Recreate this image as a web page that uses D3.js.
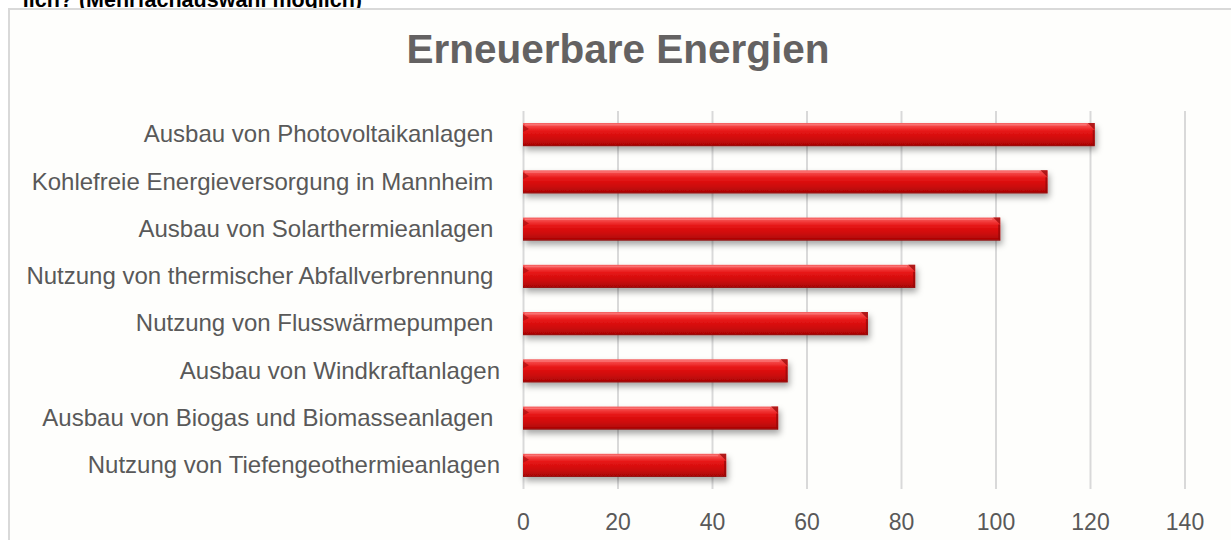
<!DOCTYPE html>
<html>
<head>
<meta charset="utf-8">
<script src="https://cdn.jsdelivr.net/npm/d3@7"></script>
<style>
  html, body { margin: 0; padding: 0; background: #ffffff; }
  svg { display: block; }
  text { font-family: "Liberation Sans", Arial, sans-serif; }
</style>
</head>
<body>
<svg id="chart" width="1231" height="540"></svg>
<script>
const categories = [
  "Ausbau von Photovoltaikanlagen ",
  "Kohlefreie Energieversorgung in Mannheim ",
  "Ausbau von Solarthermieanlagen ",
  "Nutzung von thermischer Abfallverbrennung ",
  "Nutzung von Flusswärmepumpen ",
  "Ausbau von Windkraftanlagen",
  "Ausbau von Biogas und Biomasseanlagen ",
  "Nutzung von Tiefengeothermieanlagen"
];
const values = [121, 111, 101, 83, 73, 56, 54, 43];
const tickValues = [0, 20, 40, 60, 80, 100, 120, 140];
const chartTitle = "Erneuerbare Energien";
const headerText = "lich? (Mehrfachauswahl möglich)";

const svg = d3.select("#chart");
const defs = svg.append("defs");

const grad = defs.append("linearGradient").attr("id", "barGrad")
  .attr("x1", 0).attr("y1", 0).attr("x2", 0).attr("y2", 1);
[["0%", "#f56060"], ["18%", "#f23a3a"], ["35%", "#e61515"], ["70%", "#cc0a0a"], ["92%", "#b00606"], ["100%", "#8a0a0a"]]
  .forEach(([o, c]) => grad.append("stop").attr("offset", o).attr("stop-color", c));

const shadow = defs.append("filter").attr("id", "shadow")
  .attr("x", "-5%").attr("y", "-50%").attr("width", "115%").attr("height", "250%");
shadow.append("feDropShadow").attr("dx", 2).attr("dy", 4).attr("stdDeviation", 3)
  .attr("flood-color", "#000").attr("flood-opacity", 0.35);

// header text (cut off at top in the reference)
svg.append("text").attr("x", 362).attr("y", 7).attr("text-anchor", "end")
  .attr("font-size", 21.5).attr("font-weight", "bold").attr("fill", "#000")
  .text(headerText);

// frame
svg.append("rect").attr("x", 9).attr("y", 9).attr("width", 1240).attr("height", 560)
  .attr("fill", "#fefefc").attr("stroke", "#d9d9d9").attr("stroke-width", 2);

// title
svg.append("text").attr("x", 618).attr("y", 63).attr("text-anchor", "middle")
  .attr("font-size", 40.5).attr("font-weight", "bold").attr("fill", "#646262")
  .text(chartTitle);

const x = d3.scaleLinear().domain([0, 140]).range([523, 1184.5]);
const y = d3.scaleBand().domain(categories).range([111, 489]).paddingInner(0.51).paddingOuter(0.255);

// gridlines
const grid = svg.append("g").attr("transform", "translate(0,111)")
  .call(d3.axisBottom(x).tickValues(tickValues).tickSize(489 - 111).tickFormat(""));
grid.select(".domain").remove();
grid.selectAll(".tick line").attr("stroke", "#d9d9d9").attr("stroke-width", 2);

// x axis labels
const xAxis = svg.append("g").attr("transform", "translate(0,489)")
  .call(d3.axisBottom(x).tickValues(tickValues).tickSize(0).tickPadding(25));
xAxis.select(".domain").remove();
xAxis.selectAll("text").attr("font-size", 23).attr("fill", "#595959")
  .attr("font-family", "'Liberation Sans', Arial, sans-serif");

// y axis labels
const yAxis = svg.append("g").attr("transform", "translate(500,0)")
  .call(d3.axisLeft(y).tickSize(0).tickPadding(0));
yAxis.select(".domain").remove();
yAxis.selectAll("text").attr("font-size", 24).attr("fill", "#595959")
  .attr("font-family", "'Liberation Sans', Arial, sans-serif")
  .style("white-space", "pre").attr("xml:space", "preserve");

// bars
const bars = svg.append("g").selectAll("g.bar").data(categories).join("g").attr("class", "bar");
bars.append("rect")
  .attr("x", x(0)).attr("y", d => y(d))
  .attr("width", (d, i) => x(values[i]) - x(0)).attr("height", y.bandwidth())
  .attr("fill", "url(#barGrad)").attr("filter", "url(#shadow)");
// right bevel
bars.append("path")
  .attr("d", (d, i) => {
    const x1 = x(values[i]), y0 = y(d), b = 7;
    return `M${x1 - b},${y0} L${x1},${y0} L${x1},${y0 + b} Z`;
  })
  .attr("fill", "#a30f0f").attr("opacity", 0.85);
bars.append("path")
  .attr("d", (d, i) => {
    const x1 = x(values[i]), y0 = y(d), h = y.bandwidth(), b = 7;
    return `M${x1},${y0 + b} L${x1},${y0 + h} L${x1 - 2},${y0 + h - 2} L${x1 - 2},${y0 + b} Z`;
  })
  .attr("fill", "#900808").attr("opacity", 0.7);
// left bevel
bars.append("path")
  .attr("d", (d, i) => {
    const x0 = x(0), y0 = y(d), b = 6;
    return `M${x0},${y0 + 2} L${x0 + b},${y0 + b} L${x0},${y0 + b + 3} Z`;
  })
  .attr("fill", "#b31010").attr("opacity", 0.8);
// top highlight edge
bars.append("rect")
  .attr("x", x(0) + 2).attr("y", d => y(d) + 1)
  .attr("width", (d, i) => Math.max(0, x(values[i]) - x(0) - 10)).attr("height", 1.5)
  .attr("fill", "#ff8a8a").attr("opacity", 0.6);
</script>
</body>
</html>
